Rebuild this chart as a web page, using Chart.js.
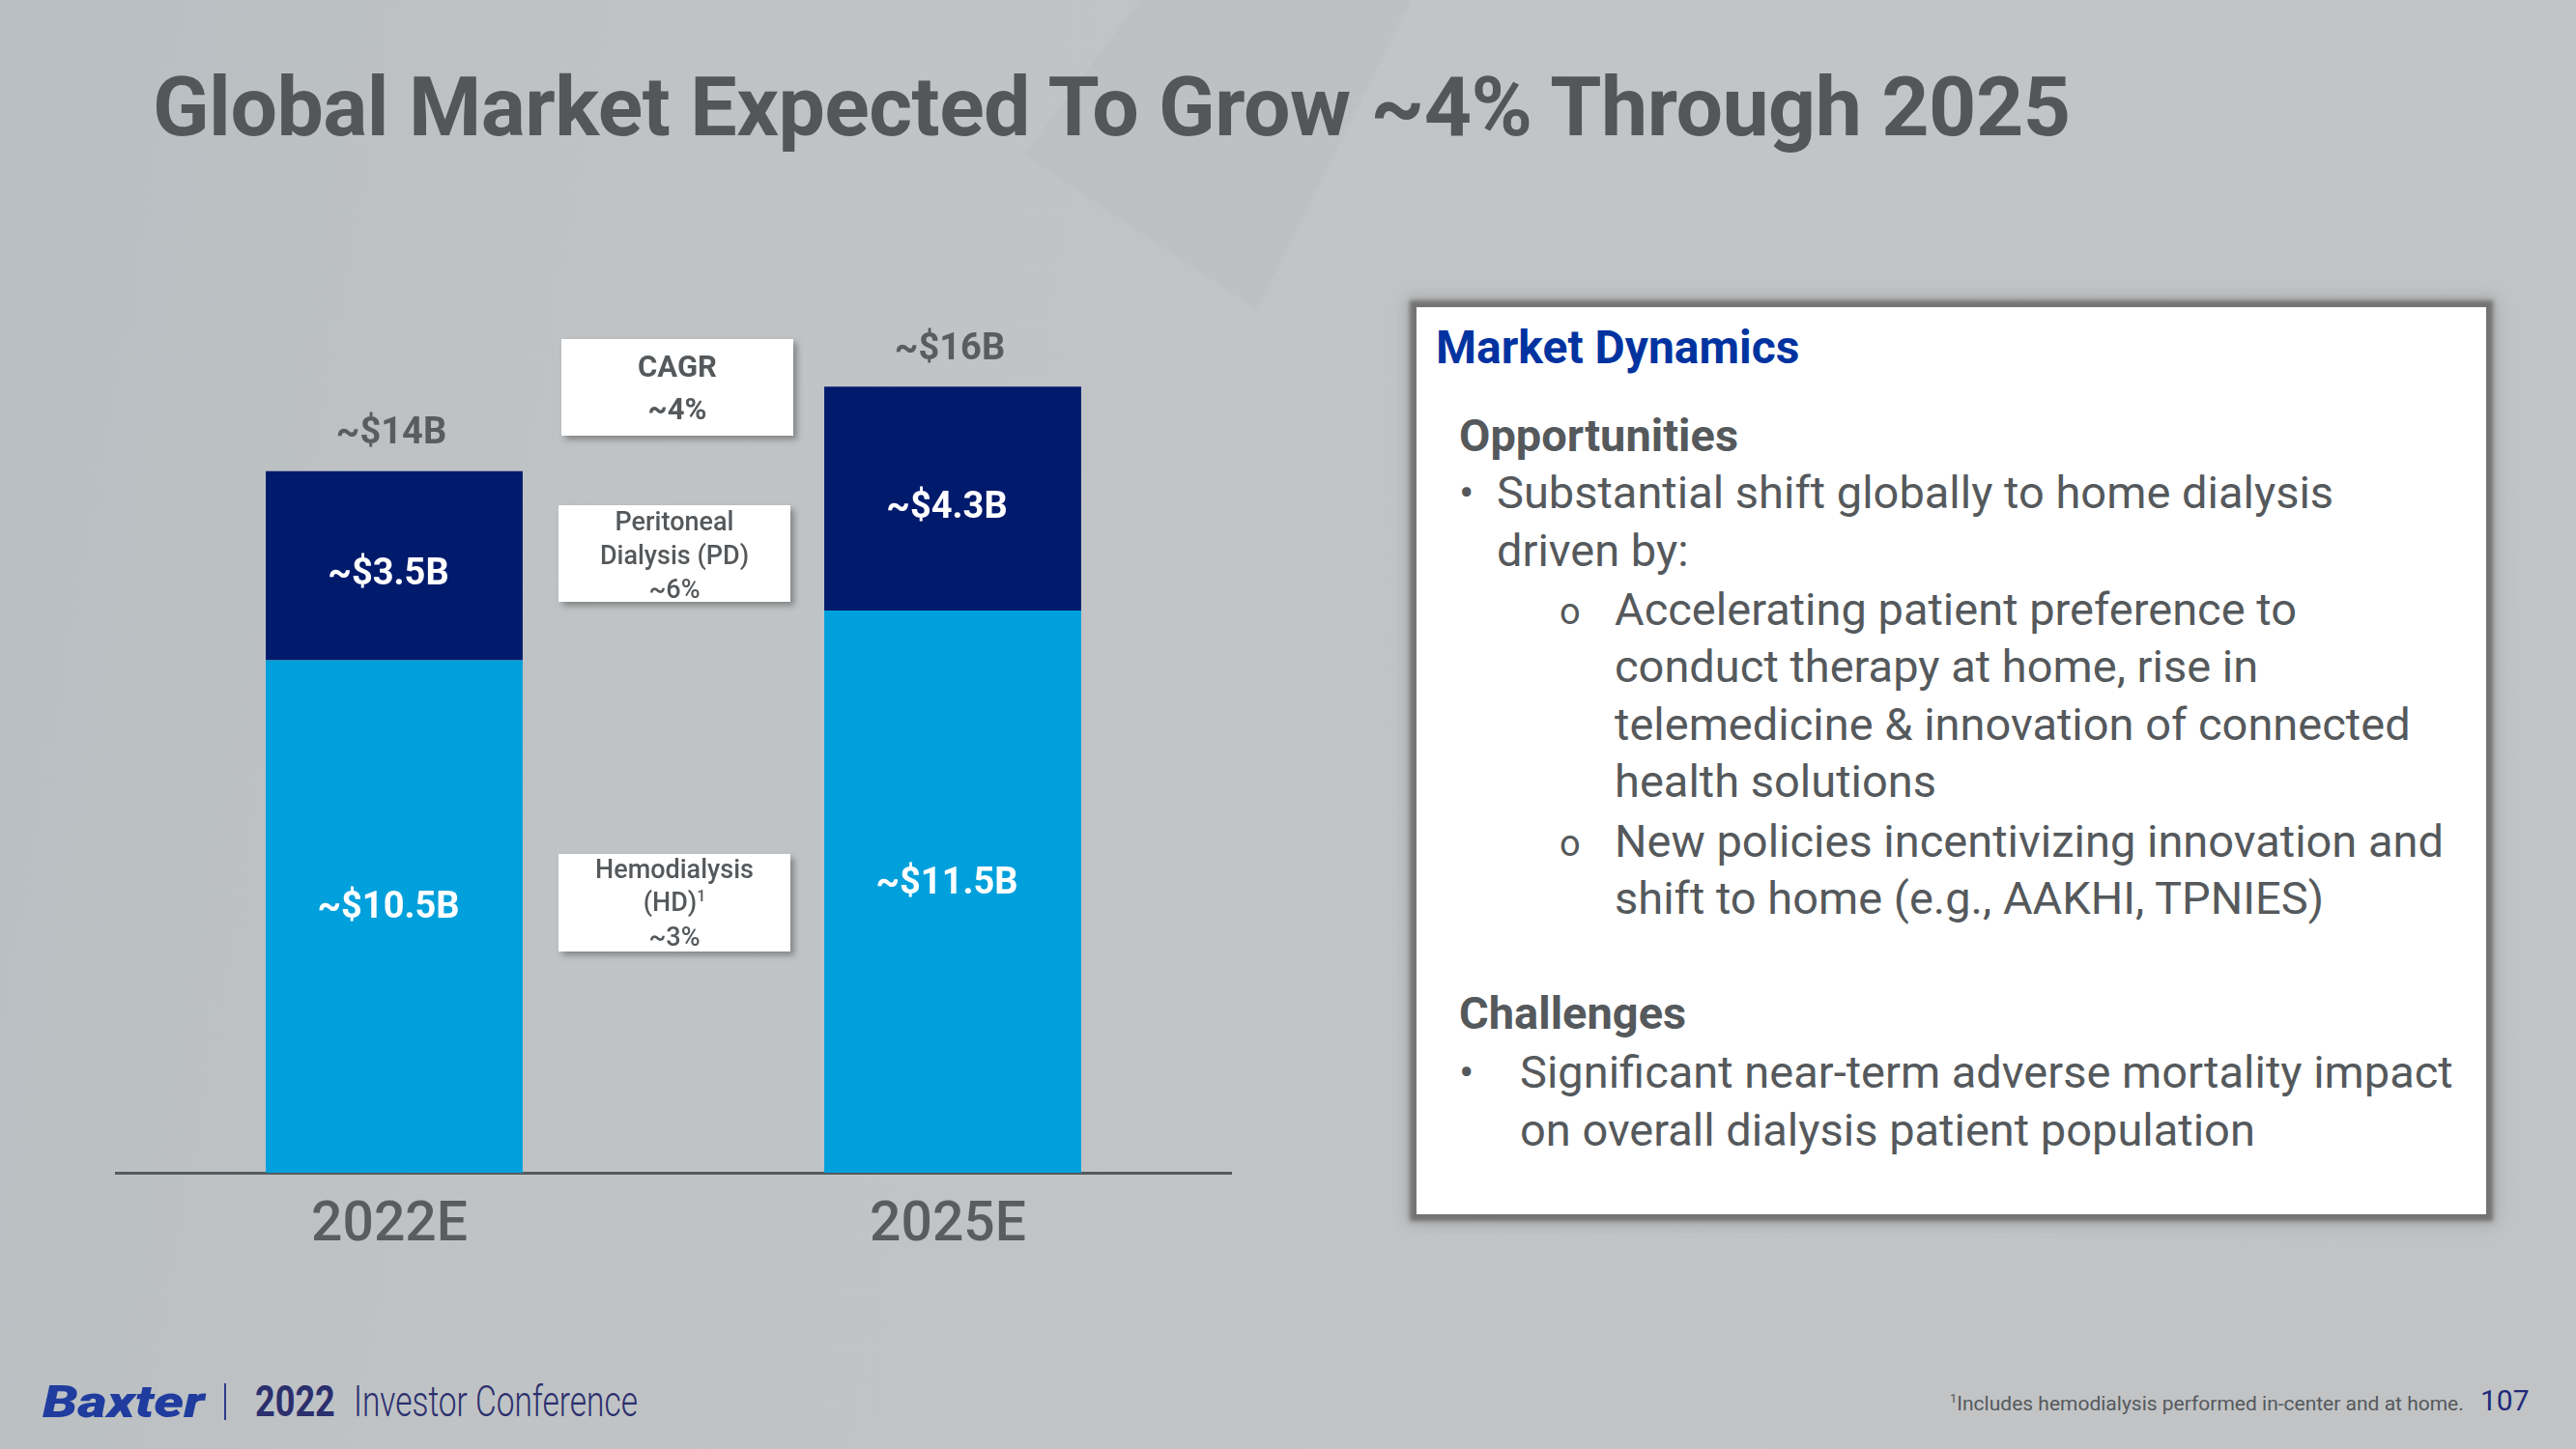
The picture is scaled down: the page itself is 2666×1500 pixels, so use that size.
<!DOCTYPE html>
<html>
<head>
<meta charset="utf-8">
<script src="https://cdn.jsdelivr.net/npm/chart.js@4.4.0/dist/chart.umd.min.js"></script>
<style>
html, body { margin: 0; padding: 0; }
body {
	width: 2666px; height: 1500px; position: relative; overflow: hidden;
	font-family: Roboto, "Liberation Sans", sans-serif;
	background: linear-gradient(100deg, #b8bec2 0%, #c0c3c5 25%, #c2c4c6 60%, #c1c3c5 100%);
}
.shape { position: absolute; left: 1060px; top: 0; width: 400px; height: 320px;
	background: rgba(176,184,191,0.22); clip-path: polygon(30% 0, 100% 0, 60% 100%, 0 50%); }
.title { position: absolute; left: 158px; top: 60px; font-size: 86px; font-weight: 700;
	color: #53575a; white-space: nowrap; letter-spacing: -0.5px; }
#wrap { position: absolute; left: 119px; top: 287px; width: 1156px; height: 1027px; }
.callout { position: absolute; background: #fff; box-shadow: 4px 4px 6px rgba(60,60,60,0.45);
	color: #55595c; text-align: center; }
.callout div { position: absolute; left: 0; right: 0; white-space: nowrap; }
.panel { position: absolute; left: 1466px; top: 318px; width: 1107px; height: 939px; background: #fff;
	box-shadow: 0 0 4px 7px rgba(110,110,110,0.9), 0 0 14px 10px rgba(140,140,140,0.5); }
.ln { position: absolute; white-space: nowrap; height: 60px; line-height: 60px; color: #55595c; }
.hd { font-weight: 700; }
.foot { position: absolute; white-space: nowrap; }
</style>
</head>
<body>
<div class="shape"></div>
<div class="title">Global Market Expected To Grow ~4% Through 2025</div>

<div id="wrap"><canvas id="chart"></canvas></div>

<div class="callout" style="left:581px;top:351px;width:240px;height:100px;font-size:31px;font-weight:700;">
	<div style="top:10px;">CAGR</div>
	<div style="top:54px;">~4%</div>
</div>
<div class="callout" style="left:578px;top:523px;width:240px;height:100px;font-size:27px;font-weight:500;">
	<div style="top:1px;">Peritoneal</div>
	<div style="top:36px;">Dialysis (PD)</div>
	<div style="top:71px;">~6%</div>
</div>
<div class="callout" style="left:578px;top:884px;width:240px;height:101px;font-size:27px;font-weight:500;">
	<div style="top:0px;">Hemodialysis</div>
	<div style="top:34px;">(HD)<sup style="font-size:16px;">1</sup></div>
	<div style="top:70px;">~3%</div>
</div>

<div class="panel"></div>
<div id="panelText"></div>

<div class="foot" style="left:44px;top:1424px;font-size:46px;font-weight:900;font-style:italic;color:#1f3c9e;transform:scaleX(1.27);transform-origin:left;">Baxter</div>
<div class="foot" style="left:232px;top:1432px;width:2px;height:38px;background:#2c3c8c;"></div>
<div class="foot" style="left:264px;top:1425px;font-size:44px;font-weight:700;color:#2b2f6e;transform:scaleX(0.82);transform-origin:left;">2022</div>
<div class="foot" style="left:366px;top:1425px;font-size:44px;font-weight:300;color:#2b2f6e;transform:scaleX(0.76);transform-origin:left;">Investor Conference</div>
<div class="foot" style="left:2018px;top:1440px;font-size:21px;color:#55595c;"><sup style="font-size:13px;">1</sup>Includes hemodialysis performed in-center and at home.</div>
<div class="foot" style="left:2567px;top:1432px;font-size:30px;color:#1f2a7a;">107</div>

<script>
// chart data
var years = ['2022E', '2025E'];
var hdValues = [10.3, 11.3];
var pdValues = [3.8, 4.5];
var hdLabels = ['~$10.5B', '~$11.5B'];
var pdLabels = ['~$3.5B', '~$4.3B'];
var totalLabels = ['~$14B', '~$16B'];

var hdColor = '#00a0dc';
var pdColor = '#001a6c';

// right panel lines: text, left, center y, class, colour, font size
var panelLines = [
	['Market Dynamics', 1486, 360, 'hd', '#0033a0', 48],
	['Opportunities', 1510, 451, 'hd', '#55595c', 47],
	['•', 1510, 510, '', '', 46],
	['Substantial shift globally to home dialysis', 1549, 510, '', '', 47],
	['driven by:', 1549, 570, '', '', 47],
	['o', 1614, 633, '', '', 38],
	['Accelerating patient preference to', 1671, 631, '', '', 47],
	['conduct therapy at home, rise in', 1671, 690, '', '', 47],
	['telemedicine & innovation of connected', 1671, 750, '', '', 47],
	['health solutions', 1671, 809, '', '', 47],
	['o', 1614, 873, '', '', 38],
	['New policies incentivizing innovation and', 1671, 871, '', '', 47],
	['shift to home (e.g., AAKHI, TPNIES)', 1671, 930, '', '', 47],
	['Challenges', 1510, 1049, 'hd', '#55595c', 47],
	['•', 1510, 1110, '', '', 46],
	['Significant near-term adverse mortality impact', 1573, 1110, '', '', 47],
	['on overall dialysis patient population', 1573, 1170, '', '', 47]
];

var holder = document.getElementById('panelText');
panelLines.forEach(function(l) {
	var d = document.createElement('div');
	d.className = 'ln ' + l[3];
	d.textContent = l[0];
	d.style.left = l[1] + 'px';
	d.style.top = (l[2] - 30) + 'px';
	d.style.fontSize = l[5] + 'px';
	if (l[4]) d.style.color = l[4];
	holder.appendChild(d);
});

var barLabels = {
	id: 'barLabels',
	afterDatasetsDraw: function(chart) {
		var ctx = chart.ctx;
		var texts = [hdLabels, pdLabels];
		var shift = [-8, 10];
		ctx.save();
		ctx.textAlign = 'center';
		ctx.textBaseline = 'middle';
		ctx.fillStyle = '#ffffff';
		ctx.font = '700 38px Roboto';
		chart.data.datasets.forEach(function(ds, i) {
			chart.getDatasetMeta(i).data.forEach(function(bar, j) {
				ctx.fillText(texts[i][j], bar.x - 6, (bar.y + bar.base) / 2 + shift[i]);
			});
		});
		// totals above the stack
		ctx.fillStyle = '#5a5d60';
		ctx.font = '700 38px Roboto';
		chart.getDatasetMeta(1).data.forEach(function(bar, j) {
			ctx.fillText(totalLabels[j], bar.x - 3, bar.y - 38);
		});
		ctx.restore();
	}
};

new Chart(document.getElementById('chart'), {
	type: 'bar',
	data: {
		labels: years,
		datasets: [
			{ label: 'Hemodialysis', data: hdValues, backgroundColor: hdColor, borderWidth: 0 },
			{ label: 'Peritoneal Dialysis', data: pdValues, backgroundColor: pdColor, borderWidth: 0 }
		]
	},
	options: {
		responsive: true,
		maintainAspectRatio: false,
		animation: false,
		layout: { padding: 0 },
		datasets: { bar: { barPercentage: 0.46, categoryPercentage: 1 } },
		plugins: { legend: { display: false }, tooltip: { enabled: false } },
		scales: {
			x: {
				stacked: true,
				grid: { display: false },
				border: { color: '#555a5e', width: 3 },
				ticks: { color: '#5a5c5e', font: { family: 'Roboto', size: 57, weight: '500' }, padding: 14, labelOffset: -5 },
				afterFit: function(axis) { axis.height = 100; }
			},
			y: { stacked: true, display: false, min: 0, max: 18 }
		}
	},
	plugins: [barLabels]
});
</script>
</body>
</html>
